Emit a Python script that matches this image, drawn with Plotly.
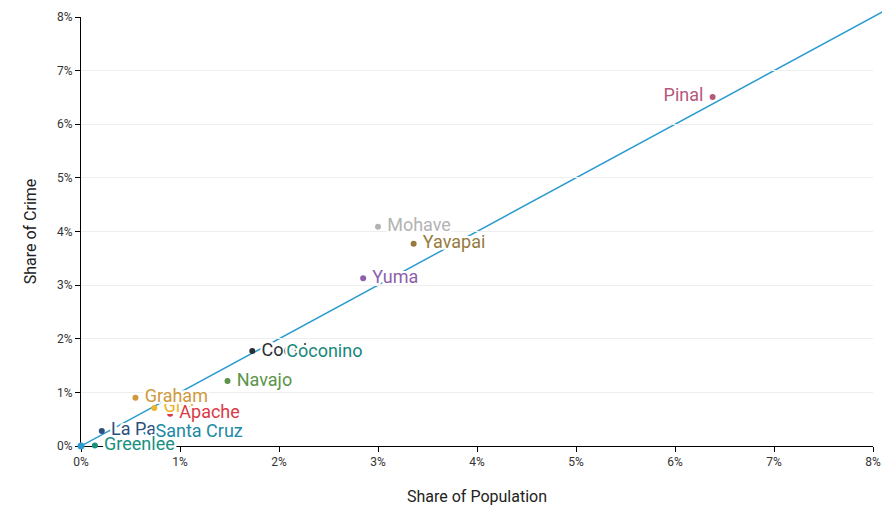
import plotly.graph_objects as go

# Label drawing order (later labels sit on top of earlier ones)
counties = ["Gila", "Graham", "Apache", "La Paz", "Santa Cruz", "Greenlee",
            "Navajo", "Cochise", "Coconino", "Yuma", "Mohave", "Yavapai", "Pinal"]
pop_share = [0.74, 0.55, 0.90, 0.21, 0.66, 0.14,
             1.48, 1.73, 1.98, 2.85, 3.00, 3.36, 6.38]
crime_share = [0.71, 0.90, 0.60, 0.28, 0.26, 0.01,
               1.21, 1.77, 1.75, 3.13, 4.09, 3.77, 6.51]
colors = ["#ebb52e", "#d0983b", "#d83a46", "#2d4f7c", "#1c8aa3", "#1a9080",
          "#5a9448", "#2b2f38", "#17877b", "#8d60ad", "#b3b3b3", "#957a3d", "#b5587a"]
label_side = ["middle right"] * 12 + ["middle left"]

parity_x = [0, 8.3]
parity_y = [0, 8.3]

x_ticks = [0, 1, 2, 3, 4, 5, 6, 7, 8]
x_tick_text = ["0%", "1%", "2%", "3%", "4%", "5%", "6%", "7%", "8%"]
y_ticks = [0, 1, 2, 3, 4, 5, 6, 7, 8]
y_tick_text = ["0%", "1%", "2%", "3%", "4%", "5%", "6%", "7%", "8%"]

FONT = "Roboto, 'Open Sans', sans-serif"
halo = ("-2px -2px 0 #fff, 2px -2px 0 #fff, -2px 2px 0 #fff, 2px 2px 0 #fff, "
        "0 2px 0 #fff, 0 -2px 0 #fff, 2px 0 0 #fff, -2px 0 0 #fff")

# geometry: the page body adds an 8px offset, so the figure is sized to compensate
W, H = 882, 498
ML, MR, MT, MB = 73, 5, 3, 60
plot_w = W - ML - MR          # full (extended) area for the parity line
plot_h = H - MT - MB
axis_w = plot_w - 12          # visible axes area
axis_h = plot_h - 6
x_dom = axis_w / plot_w
y_dom = axis_h / plot_h

fig = go.Figure()

# parity line on the slightly larger, hidden axes so it runs a little past the frame
fig.add_trace(go.Scatter(
    x=parity_x, y=parity_y, mode="lines", xaxis="x", yaxis="y",
    line=dict(color="#2b9bd0", width=1.5),
    hoverinfo="skip", showlegend=False,
))

# origin point of the parity line
fig.add_trace(go.Scatter(
    x=parity_x[:1], y=parity_y[:1], mode="markers", xaxis="x2", yaxis="y2",
    marker=dict(color="#2b9bd0", size=7),
    cliponaxis=False, hoverinfo="skip", showlegend=False,
))

# all county dots first
fig.add_trace(go.Scatter(
    x=pop_share, y=crime_share, mode="markers", xaxis="x2", yaxis="y2",
    marker=dict(color=colors, size=6),
    cliponaxis=False, hoverinfo="skip", showlegend=False,
))

# then labels, with white halos (invisible markers keep the label offset)
labels = [(" " + n) if s.endswith("right") else (n + " ") for n, s in zip(counties, label_side)]
fig.add_trace(go.Scatter(
    x=pop_share, y=crime_share, mode="markers+text", xaxis="x2", yaxis="y2",
    text=labels, textposition=label_side,
    marker=dict(color="rgba(0,0,0,0)", size=6),
    textfont=dict(family=FONT, size=18, color=colors, shadow=halo),
    cliponaxis=False, hoverinfo="skip", showlegend=False,
))

axis_common = dict(
    showline=True, linecolor="#000", linewidth=1,
    ticks="outside", ticklen=5, tickcolor="#000",
    zeroline=False, layer="below traces", automargin=False,
    tickfont=dict(family=FONT, size=12, color="#333"),
)

fig.update_layout(
    width=W, height=H,
    margin=dict(l=ML, r=MR, t=MT, b=MB),
    paper_bgcolor="white", plot_bgcolor="rgba(0,0,0,0)",
    font=dict(family=FONT),
    xaxis=dict(domain=[0, 1], range=[0, 8 / x_dom], visible=False, anchor="y"),
    yaxis=dict(domain=[0, 1], range=[0, 8 / y_dom], visible=False, anchor="x"),
    xaxis2=dict(domain=[0, x_dom], anchor="y2", range=[0, 8],
                tickvals=x_ticks, ticktext=x_tick_text, showgrid=False,
                title=dict(text="Share of Population", font=dict(size=16, color="#222"), standoff=24),
                **axis_common),
    yaxis2=dict(domain=[0, y_dom], anchor="x2", range=[0, 8],
                tickvals=y_ticks, ticktext=y_tick_text, showgrid=True, gridcolor="#eeeeee",
                title=dict(text="Share of Crime", font=dict(size=16, color="#222"), standoff=16),
                **axis_common),
)

fig.write_html("out.html")
